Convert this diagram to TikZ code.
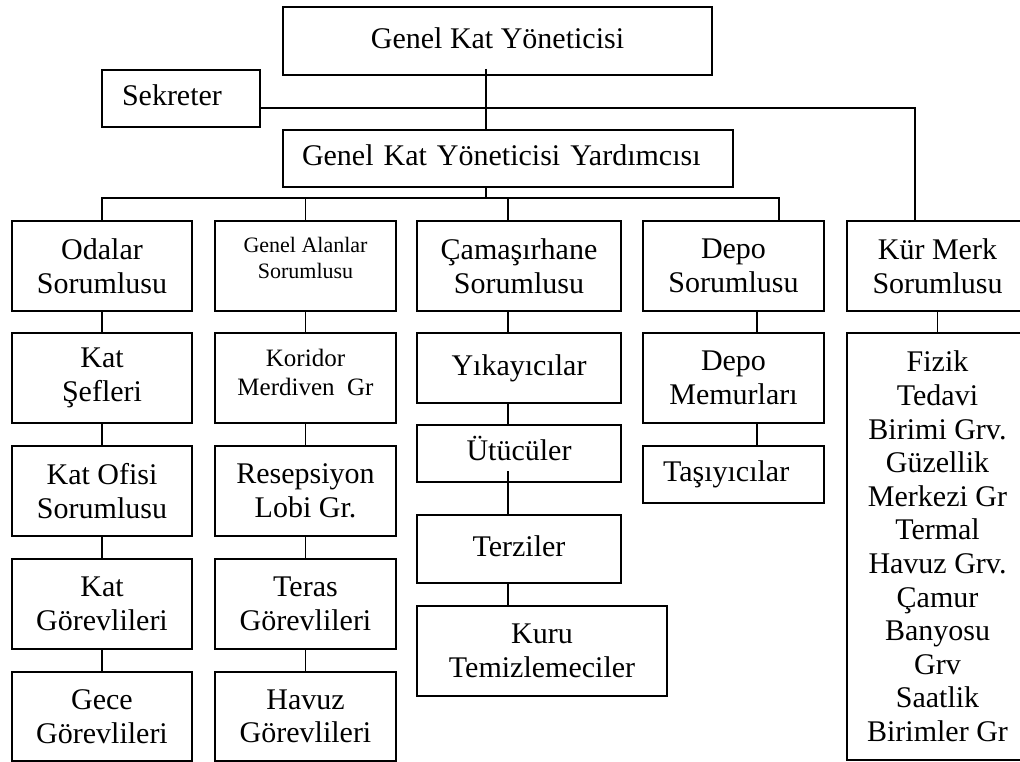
\documentclass[tikz,border=0pt]{standalone}
\usepackage{fontspec}
\setmainfont{Liberation Serif}
\begin{document}
\begin{tikzpicture}[x=1pt,y=-1pt,
  box/.style={draw,line width=1.8pt,inner sep=0pt,align=center,
    font=\fontsize{30}{33.6}\selectfont},
  oneline/.style={text height=21pt,text depth=6.6pt},
  link/.style={line width=1.8pt}]
\clip (0,0) rectangle (1020,762);
\fill[white] (0,0) rectangle (1020,762);

% top of the chart
\node[box,oneline,minimum width=429pt,minimum height=68pt] (top) at (497.5,41) {Genel Kat Yöneticisi};
\node[box,oneline,minimum width=158pt,minimum height=57pt,text width=118pt,inner xsep=20pt,align=left] (sek) at (181,98.5) {Sekreter};
\node[box,oneline,minimum width=450pt,minimum height=57pt,text width=412pt,inner xsep=19pt,align=left] (yard) at (508,158.5) {Genel Kat Yöneticisi Yardımcısı};

% department heads
\node[box,minimum width=180pt,minimum height=90pt] (odalar) at (102,266) {Odalar\\Sorumlusu};
\node[box,minimum width=181pt,minimum height=90pt,
  label={[font=\fontsize{22}{25.5}\selectfont,align=center,yshift=8pt]center:Genel Alanlar\\Sorumlusu}] (gal) at (305.5,266) {};
\node[box,minimum width=204pt,minimum height=90pt] (cam) at (519,266) {Çamaşırhane\\Sorumlusu};
\node[box,minimum width=181pt,minimum height=90pt] (depo) at (733.5,266) {Depo\\Sorumlusu};
\node[box,minimum width=181pt,minimum height=90pt] (kur) at (937.5,266) {Kür Merk\\Sorumlusu};

% rooms column
\node[box,minimum width=180pt,minimum height=90pt] (katsef) at (102,378) {Kat\\Şefleri};
\node[box,minimum width=180pt,minimum height=90pt] (katofis) at (102,491) {Kat Ofisi\\Sorumlusu};
\node[box,minimum width=180pt,minimum height=90pt] (katgor) at (102,604) {Kat\\Görevlileri};
\node[box,minimum width=180pt,minimum height=89pt] (gece) at (102,716.5) {Gece\\Görevlileri};

% public areas column
\node[box,minimum width=181pt,minimum height=90pt,
  label={[font=\fontsize{25}{29}\selectfont,align=center,yshift=6pt]center:Koridor\\Merdiven~~Gr}] (kor) at (305.5,378) {};
\node[box,minimum width=181pt,minimum height=90pt] (resep) at (305.5,491) {Resepsiyon\\Lobi Gr.};
\node[box,minimum width=181pt,minimum height=90pt] (teras) at (305.5,604) {Teras\\Görevlileri};
\node[box,minimum width=181pt,minimum height=89pt] (havuz) at (305.5,716.5) {Havuz\\Görevlileri};

% laundry column
\node[box,oneline,minimum width=204pt,minimum height=70pt] (yik) at (519,368) {Yıkayıcılar};
\node[box,oneline,minimum width=204pt,minimum height=57pt] (utu) at (519,453.5) {Ütücüler};
\node[box,oneline,minimum width=204pt,minimum height=68pt] (terz) at (519,549) {Terziler};
\node[box,minimum width=250pt,minimum height=90pt] (kuru) at (542,651) {Kuru\\Temizlemeciler};

% store column
\node[box,minimum width=181pt,minimum height=90pt] (depomem) at (733.5,378) {Depo\\Memurları};
\node[box,oneline,minimum width=181pt,minimum height=57pt,text width=141pt,inner xsep=20pt,align=left] (tasi) at (733.5,474.5) {Taşıyıcılar};

% spa column
\node[box,minimum width=181pt,minimum height=427pt] (fizik) at (937.5,546.5)
  {Fizik\\Tedavi\\Birimi Grv.\\Güzellik\\Merkezi Gr\\Termal\\Havuz Grv.\\Çamur\\Banyosu\\Grv\\Saatlik\\Birimler Gr};

% junction points
\coordinate (trunktop) at (486,69);
\coordinate (sekturn) at (915,108);
\coordinate (bus) at (486,198);
\coordinate (camx) at (508,198);
\coordinate (depx) at (779,198);
\coordinate (depmx) at (757,311);
\coordinate (utustub) at (508,471);

% upper connectors
\draw[link] (trunktop) -- (trunktop |- yard.north);
\draw[link] (sek.east |- sekturn) -- (sekturn) -- (sekturn |- kur.north);
\draw[link] (yard.south -| bus) -- (bus);
\draw[link] (odalar.north) -- (odalar.north |- bus) -- (depx) -- (depx |- depo.north);
\draw[link] (gal.north) -- (gal.north |- bus);
\draw[link] (camx) -- (camx |- cam.north);

% column connectors
\draw[link] (odalar.south) -- (katsef.north);
\draw[link] (katsef.south) -- (katofis.north);
\draw[link] (katofis.south) -- (katgor.north);
\draw[link] (katgor.south) -- (gece.north);
\draw[link] (gal.south) -- (kor.north);
\draw[link] (kor.south) -- (resep.north);
\draw[link] (resep.south) -- (teras.north);
\draw[link] (teras.south) -- (havuz.north);
\draw[link] (camx |- cam.south) -- (camx |- yik.north);
\draw[link] (camx |- yik.south) -- (camx |- utu.north);
\draw[link] (utustub) -- (utustub |- terz.north);
\draw[link] (camx |- terz.south) -- (camx |- kuru.north);
\draw[link] (depo.south -| depmx) -- (depmx |- depomem.north);
\draw[link] (depmx |- depomem.south) -- (depmx |- tasi.north);
\draw[link] (kur.south) -- (fizik.north);
\end{tikzpicture}
\end{document}
